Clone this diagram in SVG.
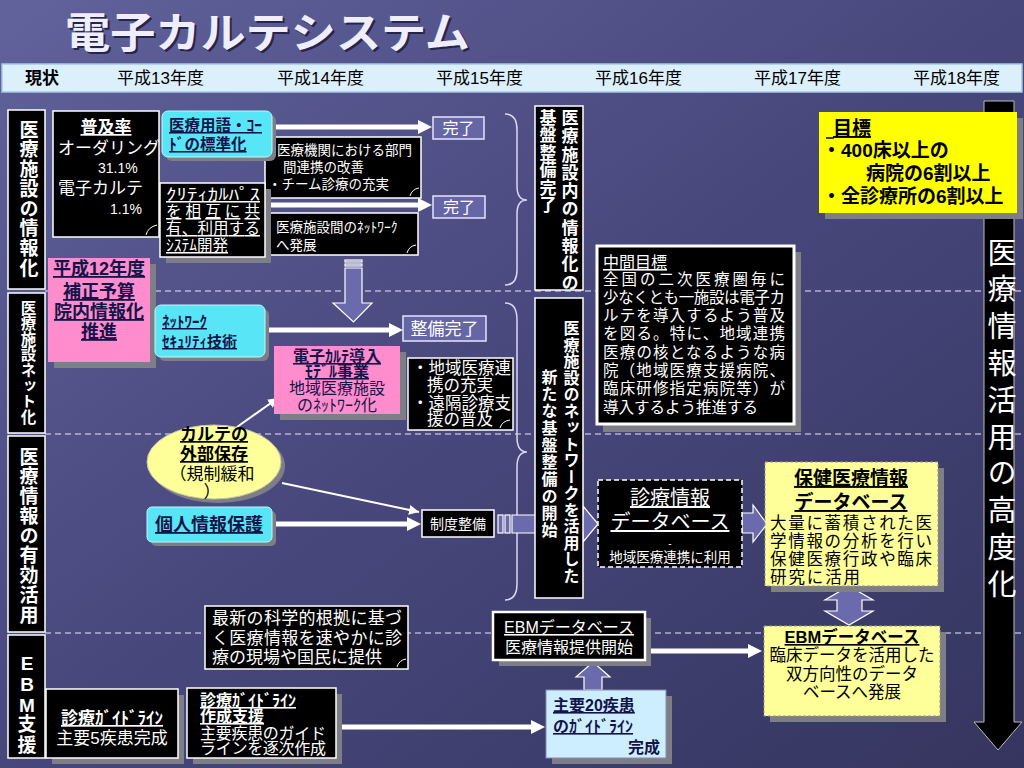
<svg xmlns="http://www.w3.org/2000/svg" width="1024" height="768" viewBox="0 0 1024 768">
<defs>
<linearGradient id="bg" x1="0" y1="0" x2="1" y2="1">
<stop offset="0" stop-color="#62629c"/>
<stop offset="0.5" stop-color="#47477c"/>
<stop offset="1" stop-color="#35355f"/>
</linearGradient>
<marker id="ah" viewBox="0 0 10 10" refX="0" refY="5" markerWidth="14" markerHeight="14" markerUnits="userSpaceOnUse" orient="auto"><path d="M0,0 L10,5 L0,10 z" fill="#fff"/></marker>
<marker id="ahs" viewBox="0 0 10 10" refX="10" refY="5" markerWidth="10" markerHeight="10" markerUnits="userSpaceOnUse" orient="auto"><path d="M0,0 L10,5 L0,10 z" fill="#fff"/></marker>
<style>
text{font-family:'Liberation Sans','Noto Sans CJK JP',sans-serif;}
.w{fill:#fff}.k{fill:#000}.n{fill:#14144a}
.b{font-weight:bold}
.u{text-decoration:underline}
.c{text-anchor:middle}
.e{text-anchor:end}
.v{writing-mode:vertical-rl}
.blk{fill:#000;stroke:#fff;stroke-width:1.5}
.sh{fill:#7e7e86}
.pink{fill:#ff8ccc}
.cyan{fill:#58e6f6;stroke:#bff6ff;stroke-width:1}
.yel{fill:#ffff99;stroke:#999;stroke-width:1;stroke-dasharray:3 2}
.done{fill:#6666a6;stroke:#e4e4ff;stroke-width:1.5}
.dl{stroke:#e8e8ff;stroke-width:1.2;stroke-dasharray:6 4;fill:none}
.ta{stroke:#fff;stroke-width:5;fill:none;marker-end:url(#ah)}
.tn{stroke:#fff;stroke-width:2;fill:none;marker-end:url(#ahs)}
.ha{fill:#6a6aac;stroke:#fff;stroke-width:1.2}
.br{fill:none;stroke:#d8d8f4;stroke-width:1.5}
.fold{fill:none;stroke:#fff;stroke-width:1}
</style>
</defs>
<rect x="0" y="0" width="1024" height="768" fill="url(#bg)"/>

<g id="title">
<text x="67" y="50" font-size="42" textLength="405" lengthAdjust="spacingAndGlyphs" fill="#25254a" class="b">電子カルテシステム</text>
<text x="65" y="48" font-size="42" textLength="405" lengthAdjust="spacingAndGlyphs" fill="#eeeeff" class="b">電子カルテシステム</text>
</g>

<g id="header">
<rect x="2" y="64" width="1020" height="28" fill="#dcf0fc" stroke="#a8c8e8" stroke-width="1.5"/>
<text x="25" y="84" font-size="17" class="k b">現状</text>
<text x="117" y="84" font-size="17" class="k">平成13年度</text>
<text x="277" y="84" font-size="17" class="k">平成14年度</text>
<text x="436" y="84" font-size="17" class="k">平成15年度</text>
<text x="595" y="84" font-size="17" class="k">平成16年度</text>
<text x="754" y="84" font-size="17" class="k">平成17年度</text>
<text x="913" y="84" font-size="17" class="k">平成18年度</text>
</g>

<g id="dividers">
<line x1="45" y1="291" x2="1024" y2="291" class="dl"/>
<line x1="45" y1="434" x2="1024" y2="434" class="dl"/>
<line x1="45" y1="633" x2="1024" y2="633" class="dl"/>
</g>

<g id="goal-arrow">
<polygon points="984,101 1014,101 1014,722 1022,722 998,750 974,722 984,722" fill="#000" stroke="#bbb" stroke-width="1"/>
<text x="999" y="238" font-size="29" letter-spacing="7.8" class="w v">医療情報活用の高度化</text>
</g>

<g id="braces">
<path class="br" d="M505,114 Q517,114 517,130 L517,186 Q517,200 527,200 Q517,200 517,214 L517,270 Q517,285 505,285"/>
<path class="br" d="M505,303 Q517,303 517,320 L517,437 Q517,452 527,452 Q517,452 517,467 L517,584 Q517,600 505,600"/>
</g>

<g id="connectors">
<line x1="274" y1="127" x2="418" y2="127" class="ta"/>
<line x1="270" y1="205" x2="418" y2="205" class="ta"/>
<line x1="268" y1="330" x2="389" y2="330" class="ta"/>
<line x1="275" y1="524" x2="407" y2="524" class="ta"/>
<line x1="648" y1="651" x2="748" y2="651" class="ta"/>
<line x1="338" y1="727" x2="531" y2="727" class="ta"/>
<line x1="237" y1="427" x2="278" y2="398" class="tn"/>
<line x1="282" y1="483" x2="419" y2="512" class="tn"/>
<g id="down-arrow">
<rect x="345" y="260" width="17" height="2" class="ha"/>
<rect x="345" y="264" width="17" height="2" class="ha"/>
<polygon points="345,268 362,268 362,303 372,303 353.5,322 333,303 345,303" class="ha"/>
</g>
<g id="arrow-seido-db">
<rect x="498" y="515" width="5" height="18" class="ha"/>
<rect x="505" y="515" width="5" height="18" class="ha"/>
<polygon points="512,515 583,515 583,506 598,524 583,542 583,533 512,533" class="ha"/>
</g>
<polygon id="arrow-db-hoken" points="742,513 753,513 753,505 767,524 753,542 753,533 742,533" class="ha"/>
<polygon id="arrow-both" points="849,586 873,600 862,600 862,611 873,611 849,625 825,611 837,611 837,600 825,600" class="ha"/>
<polygon id="arrow-up" points="593,662 610,677 602,677 602,690 584,690 584,677 576,677" class="ha"/>
</g>

<g id="row-labels">
<g id="lbl1"><rect x="8" y="110" width="37" height="179" class="blk"/>
<text x="27" y="120" font-size="19" letter-spacing="0.7" class="w b v">医療施設の情報化</text></g>
<g id="lbl2"><rect x="8" y="293" width="37" height="140" class="blk"/>
<text x="27" y="300" font-size="15.5" letter-spacing="0.1" class="w b v">医療施設ネット化</text></g>
<g id="lbl3"><rect x="8" y="436" width="37" height="196" class="blk"/>
<text x="27" y="447" font-size="19" letter-spacing="0.75" class="w b v">医療情報の有効活用</text></g>
<g id="lbl4"><rect x="8" y="635" width="37" height="123" class="blk"/>
<text font-size="19" class="w b c"><tspan x="27" y="670">E</tspan><tspan x="27" y="691">B</tspan><tspan x="27" y="712">M</tspan><tspan x="27" y="731">支</tspan><tspan x="27" y="752">援</tspan></text></g>
</g>

<g id="fukyu">
<rect x="53" y="111" width="106" height="126" class="blk"/>
<path class="fold" d="M146,235 Q148,227 157,225"/>
<text x="106" y="133" font-size="17" class="w b u c">普及率</text>
<text x="58" y="154" font-size="17" class="w">オーダリング</text>
<text x="98" y="173" font-size="14" class="w">31.1%</text>
<text x="58" y="194" font-size="17" class="w">電子カルテ</text>
<text x="110" y="214" font-size="14" class="w">1.1%</text>
</g>

<g id="bukan">
<rect x="265" y="137" width="156" height="61" class="blk"/>
<path class="fold" d="M410,196 Q412,189 419,188"/>
<text x="277" y="155" font-size="13.5" class="w">医療機関における部門</text>
<text x="283" y="172" font-size="13.5" class="w">間連携の改善</text>
<text x="268" y="189" font-size="13.5" class="w">・チーム診療の充実</text>
</g>

<g id="shisetsukan">
<rect x="268" y="213" width="150" height="42" class="blk"/>
<path class="fold" d="M407,253 Q409,246 416,245"/>
<text x="276" y="232" font-size="13.5" class="w">医療施設間のﾈｯﾄﾜｰｸ</text>
<text x="276" y="250" font-size="13.5" class="w">へ発展</text>
</g>

<g id="yogo">
<rect x="166" y="115" width="110" height="46" rx="6" class="sh"/>
<rect x="162" y="111" width="110" height="46" rx="6" class="cyan"/>
<text x="169" y="131" font-size="15.5" class="n b u">医療用語・ｺｰ</text>
<text x="169" y="150" font-size="15.5" class="n b u">ﾄﾞの標準化</text>
</g>

<g id="critical">
<rect x="166" y="189" width="105" height="74" class="sh"/>
<rect x="160" y="183" width="105" height="74" class="blk"/>
<text x="166" y="200" font-size="15.5" textLength="94" lengthAdjust="spacingAndGlyphs" class="w u">ｸﾘﾃｨｶﾙﾊﾟｽ</text>
<text x="166" y="217" font-size="15.5" textLength="94" class="w u">を相互に共</text>
<text x="166" y="234" font-size="15.5" textLength="94" class="w u">有、利用する</text>
<text x="166" y="251" font-size="15.5" class="w u">ｼｽﾃﾑ開発</text>
</g>

<g id="kanryo1"><rect x="433" y="117" width="51" height="22" class="done"/>
<text x="458.5" y="134" font-size="16" class="w c">完了</text></g>
<g id="kanryo2"><rect x="433" y="196" width="52" height="22" class="done"/>
<text x="459" y="213" font-size="16" class="w c">完了</text></g>

<g id="kiban1">
<rect x="535" y="106" width="48" height="184" class="blk"/>
<text x="568" y="109" font-size="17" letter-spacing="1.3" class="w b v">医療施設内の情報化の</text>
<text x="546" y="109" font-size="17" letter-spacing="0.5" class="w b v">基盤整備完了</text>
</g>

<g id="h12">
<rect x="54" y="264" width="102" height="104" class="sh"/>
<rect x="48" y="258" width="102" height="104" class="pink"/>
<text x="99" y="275" font-size="18" class="n b u c">平成12年度</text>
<text x="99" y="298" font-size="18" class="n b u c">補正予算</text>
<text x="99" y="318" font-size="18" class="n b u c">院内情報化</text>
<text x="99" y="338" font-size="18" class="n b u c">推進</text>
</g>

<g id="security">
<rect x="159" y="309" width="110" height="52" rx="6" class="sh"/>
<rect x="155" y="305" width="110" height="52" rx="6" class="cyan"/>
<text x="162" y="327" font-size="15" class="n b u">ﾈｯﾄﾜｰｸ</text>
<text x="162" y="347" font-size="15" class="n b u">ｾｷｭﾘﾃｨ技術</text>
</g>

<g id="seibi"><rect x="403" y="316" width="83" height="25" class="done"/>
<text x="444.5" y="335" font-size="17" class="w c">整備完了</text></g>

<g id="model">
<rect x="280" y="352" width="126" height="68" class="sh"/>
<rect x="274" y="346" width="126" height="68" class="pink"/>
<text x="337" y="362" font-size="16" class="n b u c">電子ｶﾙﾃ導入</text>
<text x="337" y="377" font-size="16" class="n b u c">ﾓﾃﾞﾙ事業</text>
<text x="337" y="394" font-size="16" class="n c">地域医療施設</text>
<text x="337" y="411" font-size="16" class="n c">のﾈｯﾄﾜｰｸ化</text>
</g>

<g id="renkei">
<rect x="408" y="358" width="105" height="72" class="blk"/>
<path class="fold" d="M500,428 Q502,421 510,420"/>
<text x="412" y="374" font-size="16.5" class="w">・地域医療連</text>
<text x="427" y="391" font-size="16.5" class="w">携の充実</text>
<text x="412" y="409" font-size="16.5" class="w">・遠隔診療支</text>
<text x="427" y="425" font-size="16.5" class="w">援の普及</text>
</g>

<g id="kiban2">
<rect x="535" y="298" width="48" height="300" class="blk"/>
<text x="570" y="320" font-size="16" letter-spacing="0.5" class="w b v">医療施設のネットワークを活用した</text>
<text x="548" y="369" font-size="16" letter-spacing="1" class="w b v">新たな基盤整備の開始</text>
</g>

<g id="chukan">
<rect x="603" y="252" width="198" height="180" class="sh"/>
<rect x="597" y="246" width="197" height="178" fill="#000" stroke="#fff" stroke-width="3"/>
<text x="603" y="268" font-size="16" class="w u">中間目標</text>
<text x="603" y="285" font-size="15.5" textLength="182" class="w">全国の二次医療圏毎に</text>
<text x="603" y="303" font-size="15.5" textLength="182" class="w">少なくとも一施設は電子カ</text>
<text x="603" y="321" font-size="15.5" textLength="182" class="w">ルテを導入するよう普及</text>
<text x="603" y="339" font-size="15.5" textLength="182" class="w">を図る。特に、地域連携</text>
<text x="603" y="358" font-size="15.5" textLength="182" class="w">医療の核となるような病</text>
<text x="603" y="376" font-size="15.5" textLength="182" class="w">院（地域医療支援病院、</text>
<text x="603" y="394" font-size="15.5" textLength="182" class="w">臨床研修指定病院等）が</text>
<text x="603" y="413" font-size="15.5" textLength="155" class="w">導入するよう推進する</text>
</g>

<g id="mokuhyo">
<rect x="825" y="118" width="198" height="101" class="sh"/>
<rect x="819" y="112" width="198" height="101" fill="#ffff00"/>
<line x1="826" y1="138" x2="834" y2="138" stroke="#000" stroke-width="1.5"/>
<text x="833" y="135" font-size="19" class="k b u">目標</text>
<text x="822" y="157" font-size="19" class="k b">・400床以上の</text>
<text x="866" y="180" font-size="19" class="k b">病院の6割以上</text>
<text x="822" y="203" font-size="19" class="k b">・全診療所の6割以上</text>
</g>

<g id="gaibu">
<ellipse cx="218" cy="466" rx="67" ry="37" class="sh"/>
<ellipse cx="214" cy="462" rx="67" ry="37" fill="#ffff99" stroke="#c8c8a0" stroke-width="1"/>
<text x="214" y="440" font-size="17" class="k b u c">カルテの</text>
<text x="214" y="460" font-size="17" class="k b u c">外部保存</text>
<text x="212" y="480" font-size="17" class="k c">（規制緩和</text>
<text x="212" y="498" font-size="17" class="k c">）</text>
</g>

<g id="kojin">
<rect x="151" y="511" width="125" height="35" rx="5" class="sh"/>
<rect x="147" y="507" width="125" height="35" rx="5" class="cyan"/>
<text x="209" y="531" font-size="18" class="n b u c">個人情報保護</text>
</g>

<g id="seido"><rect x="422" y="510" width="72" height="27" class="blk"/>
<text x="458" y="529" font-size="14" class="w c">制度整備</text></g>

<g id="shinryo-db">
<rect x="598" y="480" width="144" height="87" fill="#000" stroke="#fff" stroke-width="1.5" stroke-dasharray="5 3"/>
<text x="670" y="505" font-size="20" class="w u c">診療情報</text>
<text x="670" y="529" font-size="20" class="w u c">データベース</text>
<text x="670" y="547" font-size="10" class="w c">-</text>
<text x="670" y="562" font-size="13.5" class="w c">地域医療連携に利用</text>
</g>

<g id="hoken-db">
<rect x="771" y="468" width="173" height="124" class="sh"/>
<rect x="765" y="462" width="173" height="124" class="yel"/>
<text x="851" y="485" font-size="19" class="k b u c">保健医療情報</text>
<text x="851" y="509" font-size="19" class="k b u c">データベース</text>
<text x="770" y="529" font-size="16.5" textLength="162" class="k">大量に蓄積された医</text>
<text x="770" y="547" font-size="16.5" textLength="162" class="k">学情報の分析を行い</text>
<text x="770" y="565" font-size="16.5" textLength="162" class="k">保健医療行政や臨床</text>
<text x="770" y="583" font-size="16.5" textLength="90" class="k">研究に活用</text>
</g>

<g id="saishin">
<rect x="205" y="606" width="203" height="63" class="blk"/>
<path class="fold" d="M397,667 Q399,660 406,659"/>
<text x="212" y="624" font-size="17" textLength="190" class="w">最新の科学的根拠に基づ</text>
<text x="212" y="644" font-size="17" textLength="190" class="w">く医療情報を速やかに診</text>
<text x="212" y="663" font-size="17" class="w">療の現場や国民に提供</text>
</g>

<g id="ebm-kaishi">
<rect x="499" y="618" width="152" height="48" class="sh"/>
<rect x="493" y="612" width="152" height="48" fill="#000" stroke="#fff" stroke-width="2.5"/>
<text x="569" y="633" font-size="16" class="w u c">EBMデータベース</text>
<text x="569" y="653" font-size="16" class="w c">医療情報提供開始</text>
</g>

<g id="ebm-db">
<rect x="770" y="632" width="176" height="90" class="sh"/>
<rect x="764" y="626" width="176" height="90" class="yel"/>
<text x="852" y="643" font-size="16.5" class="k b u c">EBMデータベース</text>
<text x="852" y="661" font-size="16.5" class="k c">臨床データを活用した</text>
<text x="852" y="680" font-size="16.5" class="k c">双方向性のデータ</text>
<text x="852" y="698" font-size="16.5" class="k c">ベースへ発展</text>
</g>

<g id="guide5">
<rect x="52" y="695" width="132" height="69" class="sh"/>
<rect x="46" y="689" width="132" height="69" class="blk"/>
<text x="112" y="724" font-size="17" class="w b u c">診療ｶﾞｲﾄﾞﾗｲﾝ</text>
<text x="112" y="744" font-size="17" class="w c">主要5疾患完成</text>
</g>

<g id="guide-shien">
<rect x="193" y="694" width="149" height="70" class="sh"/>
<rect x="187" y="688" width="149" height="70" class="blk"/>
<text x="200" y="706" font-size="16" class="w b u">診療ｶﾞｲﾄﾞﾗｲﾝ</text>
<text x="200" y="722" font-size="16" class="w b u">作成支援</text>
<text x="200" y="739" font-size="16" textLength="126" class="w">主要疾患のガイド</text>
<text x="200" y="754" font-size="16" textLength="126" class="w">ラインを逐次作成</text>
</g>

<g id="guide20">
<rect x="552" y="696" width="120" height="68" class="sh"/>
<rect x="546" y="690" width="120" height="68" fill="#cdeeff" stroke="#8a8ab0" stroke-width="1"/>
<text x="553" y="711" font-size="16" class="n b u">主要20疾患</text>
<text x="553" y="732" font-size="16" class="n b u">のｶﾞｲﾄﾞﾗｲﾝ</text>
<text x="660" y="753" font-size="16" class="n b e">完成</text>
</g>
</svg>
